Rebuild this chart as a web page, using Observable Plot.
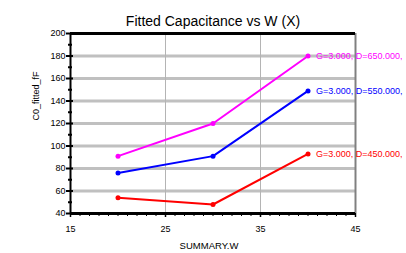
<!DOCTYPE html>
<html><head>
<meta charset="utf-8">
<script src="https://cdn.jsdelivr.net/npm/d3@7"></script>
<script src="https://cdn.jsdelivr.net/npm/@observablehq/plot@0.6"></script>
<style>body{margin:0;background:#fff;font-family:"Liberation Sans",Arial,sans-serif}</style>
</head><body><div id="chart"></div>
<script>
const wValues = [20, 30, 40];
const seriesD450 = [54, 48, 93];
const seriesD550 = [76, 91, 149];
const seriesD650 = [91, 120, 180];
const seriesLabels = ["G=3.000, D=450.000,", "G=3.000, D=550.000,", "G=3.000, D=650.000,"];
const seriesColors = ["#ff0000", "#0000ff", "#ff00ff"];
const yTicks = [40, 60, 80, 100, 120, 140, 160, 180, 200];
const yMinorTicks = [50, 70, 90, 110, 130, 150, 170, 190];
const yGrid = [60, 80, 100, 120, 140, 160, 180];
const xTicks = [15, 25, 35, 45];
const xMinorTicks = d3.range(15, 46);
const xGrid = [25, 35];
const titleText = "Fitted Capacitance vs W (X)";
const xLabel = "SUMMARY.W";
const yLabel = "C0_fitted_fF";

const allSeries = [seriesD450, seriesD550, seriesD650];
const rows = [];
allSeries.forEach((vals, i) => vals.forEach((v, j) => rows.push({w: wValues[j], c: v, s: seriesLabels[i]})));
const lastRows = rows.filter(d => d.w === wValues[wValues.length - 1]);

const chart = Plot.plot({
  width: 406, height: 253,
  marginLeft: 70, marginRight: 51, marginTop: 33, marginBottom: 40,
  style: {fontFamily: "Liberation Sans, Arial, sans-serif", fontSize: "9px", color: "#000", background: "#fff", overflow: "visible"},
  x: {domain: [15, 45], label: null},
  y: {domain: [40, 200], label: null},
  color: {domain: seriesLabels, range: seriesColors},
  marks: [
    Plot.ruleY(yGrid, {stroke: "#c0c0c0", strokeWidth: 3}),
    Plot.ruleX(xGrid, {stroke: "#b4b4b4", strokeWidth: 1}),
    Plot.ruleX([45], {stroke: "#808080", strokeWidth: 2}),
    Plot.ruleY([200], {stroke: "#000", strokeWidth: 3}),
    Plot.ruleY([40], {stroke: "#000", strokeWidth: 3}),
    Plot.ruleX([15], {stroke: "#000", strokeWidth: 2}),
    Plot.axisY(yTicks, {tickSize: 7, dx: 3, strokeWidth: 2, text: null, label: null}),
    Plot.axisY(yMinorTicks, {tickSize: 4, dx: 2, strokeWidth: 2, text: null, label: null}),
    Plot.axisY(yTicks, {tickSize: 0, tickPadding: 5, fontSize: 9, label: null}),
    Plot.axisX(xMinorTicks, {tickSize: 3, strokeWidth: 1, text: null, label: null}),
    Plot.axisX(xTicks, {tickSize: 4, strokeWidth: 1.5, tickPadding: 8, fontSize: 9, label: null}),
    Plot.line(rows, {x: "w", y: "c", z: "s", stroke: "s", strokeWidth: 2}),
    Plot.dot(rows, {x: "w", y: "c", fill: "s", r: 2.5}),
    Plot.text(lastRows, {x: "w", y: "c", text: "s", fill: "s", textAnchor: "start", dx: 8, fontSize: 9}),
    Plot.text([titleText], {frameAnchor: "top", dy: -17, fontSize: 14}),
    Plot.text([xLabel], {frameAnchor: "bottom", dy: 35, dx: -4, fontSize: 9.5}),
    Plot.text([yLabel], {frameAnchor: "left", dx: -34, dy: -3, rotate: -90, fontSize: 9})
  ]
});
document.getElementById("chart").append(chart);
</script>
</body></html>
